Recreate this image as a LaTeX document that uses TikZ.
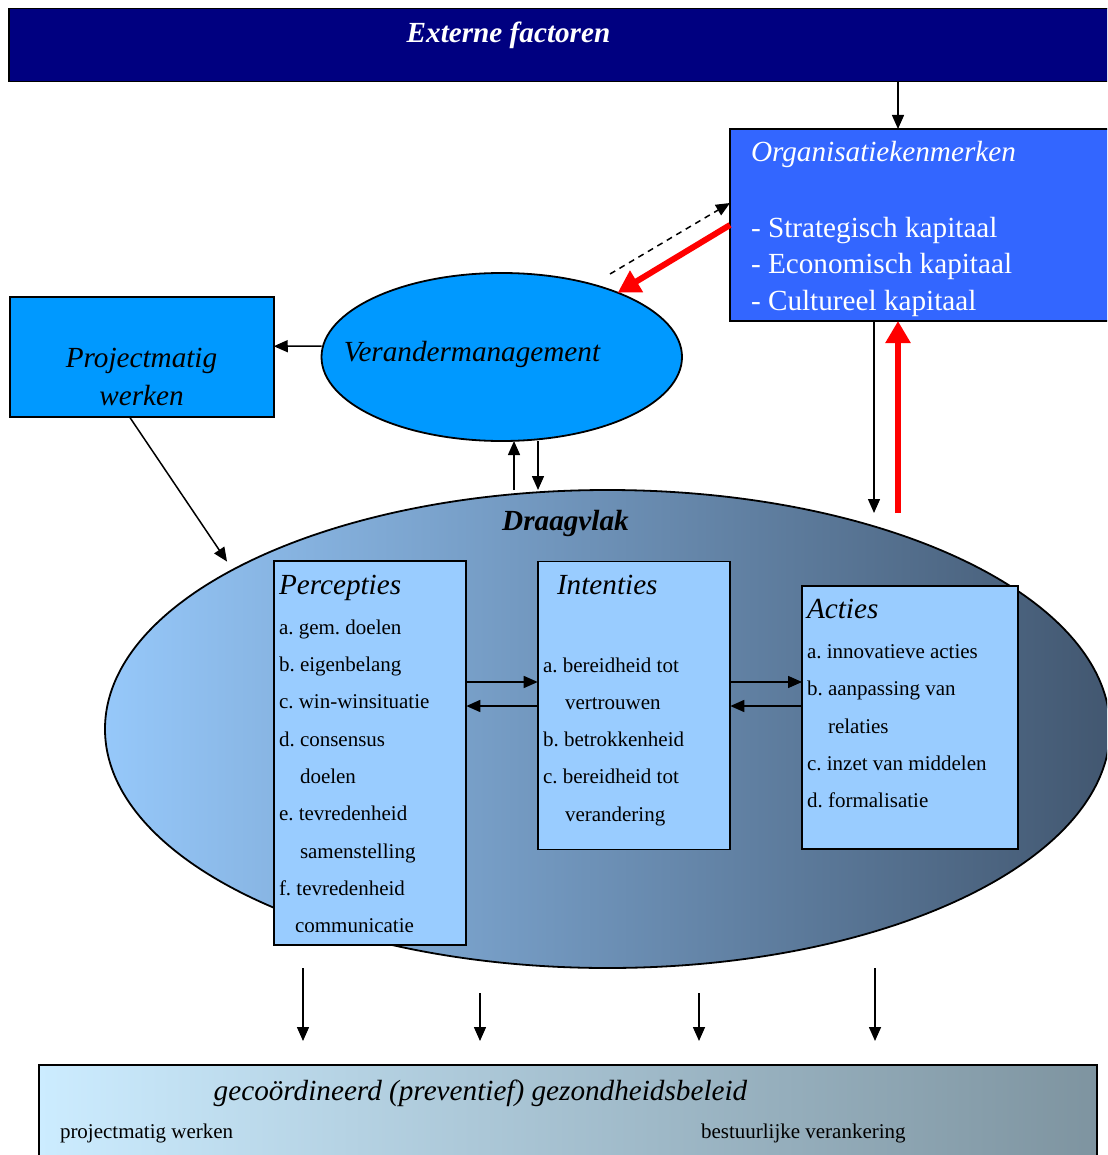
\documentclass[tikz,border=0pt]{standalone}
\usepackage{fontspec}
\setmainfont{Liberation Serif}
\usetikzlibrary{arrows.meta,shapes.geometric}

\definecolor{extnavy}{RGB}{0,0,128}
\definecolor{orgblue}{RGB}{51,102,255}
\definecolor{vmblue}{RGB}{0,153,255}
\definecolor{lichtblauw}{RGB}{153,204,255}
\definecolor{dvlinks}{RGB}{150,200,250}
\definecolor{dvrechts}{RGB}{66,87,112}
\definecolor{bellinks}{RGB}{204,236,255}
\definecolor{belrechts}{RGB}{126,148,160}

\begin{document}
\frenchspacing
\begin{tikzpicture}[
  x=0.5pt,y=-0.5pt,
  every node/.style={inner sep=0pt,outer sep=0pt},
  box/.style={draw,line width=0.9pt,rectangle},
  kop/.style={font=\fontsize{14.6}{17}\selectfont\itshape},
  kopb/.style={font=\fontsize{14.6}{17}\selectfont\bfseries\itshape},
  orgregel/.style={font=\fontsize{14.6}{17}\selectfont,text=white,anchor=base west},
  item/.style={font=\fontsize{10.5}{12}\selectfont,anchor=base west},
  ar/.style={-{Triangle[length=7pt,width=6pt]},line width=0.75pt},
  redar/.style={-{Triangle[length=11pt,width=12pt]},line width=3pt,draw=red,fill=red}
]
\useasboundingbox (0,0) rectangle (1107,1155);
\clip (0,0) rectangle (1107,1155);

\node[box,fill=extnavy,minimum width=553pt,minimum height=36.5pt] (ext) at (562,45) {};
\node[box,fill=orgblue,minimum width=192.5pt,minimum height=96pt] (org) at (922.5,225) {};
\node[box,fill=vmblue,minimum width=132pt,minimum height=60pt] (proj) at (141.75,357.25) {};
\node[ellipse,draw,line width=0.9pt,fill=vmblue,minimum width=180.25pt,minimum height=84pt] (vm) at (501.75,357) {};
\node[ellipse,draw,line width=0.9pt,left color=dvlinks,right color=dvrechts,minimum width=502.5pt,minimum height=239pt] (dv) at (607.5,729) {};
\node[box,fill=lichtblauw,minimum width=96.3pt,minimum height=192pt] (perc) at (370,753) {};
\node[box,fill=lichtblauw,minimum width=96.3pt,minimum height=144pt] (int) at (634,705.5) {};
\node[box,fill=lichtblauw,minimum width=108pt,minimum height=131.5pt] (act) at (910,717.5) {};
\node[box,left color=bellinks,right color=belrechts,minimum width=529pt,minimum height=52.5pt] (beleid) at (568,1117.5) {};

\node[kopb,text=white,anchor=base] (ext-t) at (508.5,43) {Externe factoren};
\node[kop,text=white,anchor=base west] (org-t) at (751,162) {Organisatiekenmerken};
\foreach \t [count=\i] in {Strategisch,Economisch,Cultureel}
  \node[orgregel] (org-\i) at (751,{237+(\i-1)*36.9}) {- \t\ kapitaal};
\node[kop,anchor=base] (vm-t) at (472,361) {Verandermanagement};
\node[kop,anchor=base] (proj-t1) at (141.5,367) {Projectmatig};
\node[kop,anchor=base] (proj-t2) at (141.5,405.7) {werken};
\node[kopb,anchor=base] (dv-t) at (565.5,530) {Draagvlak};

\node[kop,anchor=base west] (perc-t) at (279,594.3) {Percepties};
\foreach \t/\d [count=\i] in {a. gem. doelen/0,b. eigenbelang/0,c. win-winsituatie/0,d. consensus/0,doelen/21,e. tevredenheid/0,samenstelling/21,f. tevredenheid/0,communicatie/16}
  \node[item] (perc-\i) at ({279+\d},{634.3+(\i-1)*37.3}) {\t};

\node[kop,anchor=base west] (int-t) at (557,594.3) {Intenties};
\foreach \t/\d [count=\i] in {a. bereidheid tot/0,vertrouwen/22,b. betrokkenheid/0,c. bereidheid tot/0,verandering/22}
  \node[item] (int-\i) at ({543+\d},{672.3+(\i-1)*37.2}) {\t};

\node[kop,anchor=base west] (act-t) at (807,618.3) {Acties};
\foreach \t/\d [count=\i] in {a. innovatieve acties/0,b. aanpassing van/0,relaties/21,c. inzet van middelen/0,d. formalisatie/0}
  \node[item] (act-\i) at ({807+\d},{658.3+(\i-1)*37.35}) {\t};

\node[kop,anchor=base] (beleid-t) at (480.5,1100) {gecoördineerd (preventief) gezondheidsbeleid};
\node[item] (beleid-l) at (60,1138) {projectmatig werken};
\node[item] (beleid-r) at (701,1138) {bestuurlijke verankering};

\coordinate (x-ext) at (898,0);
\coordinate (d-start) at (610,274);
\coordinate (x-up) at (514,0);
\coordinate (x-down) at (538,0);
\coordinate (x-od) at (874,0);
\coordinate (x-rd) at (898,0);
\coordinate (y-od) at (0,513);
\coordinate (y-r) at (0,682);
\coordinate (y-l) at (0,706);

\draw[ar] (ext.south -| x-ext) -- (org.north -| x-ext);
\draw[ar,dash pattern=on 3pt off 2.5pt] (d-start) -- ([yshift=11pt]org.west);
\draw[redar] (org.west) -- (vm.29);
\draw[ar] ([yshift=5.5pt]vm.west) -- ([yshift=5.5pt]proj.east);
\draw[ar,shorten >=5pt] ([xshift=-6pt]proj.south) -- (dv.157);
\draw[ar] (dv.north -| x-up) -- (vm.south -| x-up);
\draw[ar] (vm.south -| x-down) -- (dv.north -| x-down);
\draw[ar] (org.south -| x-od) -- (x-od |- y-od);
\draw[redar] (x-rd |- y-od) -- (org.south -| x-rd);
\draw[ar] (perc.east |- y-r) -- (int.west |- y-r);
\draw[ar] (int.west |- y-l) -- (perc.east |- y-l);
\draw[ar] (int.east |- y-r) -- (act.west |- y-r);
\draw[ar] (act.west |- y-l) -- (int.east |- y-l);
\foreach \x/\ys [count=\i] in {303/968,480/993,699/993,875/968}{
  \coordinate (b-\i) at (\x,\ys);
  \coordinate (e-\i) at (\x,1041);
  \draw[ar] (b-\i) -- (e-\i);
}
\end{tikzpicture}
\end{document}
